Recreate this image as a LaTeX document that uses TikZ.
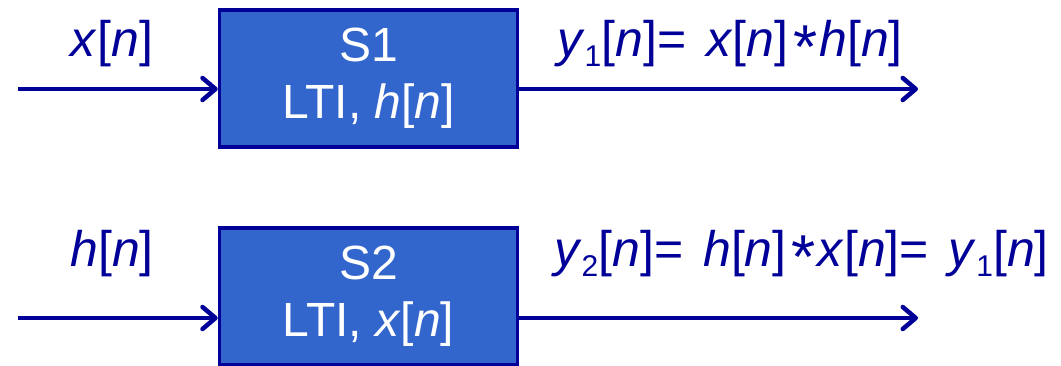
\documentclass[tikz,border=0pt]{standalone}
\usepackage{fontspec}
\setmainfont{Liberation Sans}
\usetikzlibrary{arrows.meta}

\definecolor{sysblue}{HTML}{3366CC}
\definecolor{sigblue}{HTML}{000099}

\newcommand{\sig}[1]{\textit{#1}[\textit{n}]}
\newcommand{\conv}{\kern5pt\raisebox{-12pt}{\fontsize{62}{62}\selectfont *}\kern2pt}
\newcommand{\lowidx}[1]{\raisebox{-10pt}{\fontsize{30}{30}\selectfont #1}}
\newcommand{\eqsp}{=\hspace{20pt}}

\tikzset{
    sysbox/.style={draw=sigblue, fill=sysblue, line width=3.5pt, text=white,
        minimum width=298pt, minimum height=137pt, align=center,
        font=\fontsize{48}{57}\selectfont},
    sigline/.style={draw=sigblue, line width=4.5pt,
        -{Straight Barb[length=13pt,width=22pt,round]}},
    siglabel/.style={text=sigblue, inner sep=0pt, font=\fontsize{50}{57}\selectfont}
}

\begin{document}
\begin{tikzpicture}[x=1pt,y=-1pt]
            \useasboundingbox (0,0) rectangle (1061,365);

            % first system
            \node [sysbox] (s1) at (368.5,78.5) {S1\\LTI, \sig{h}};
            \coordinate (in1) at (18,89);
            \coordinate (out1) at (918,89);
            \draw [sigline] (in1) -- (in1 -| s1.west);
            \draw [sigline] (out1 -| s1.east) -- (out1);
            \node [siglabel, anchor=base] (x1) at (112,56) {\sig{x}};
            \node [siglabel, anchor=base west] (y1) at (557,56)
                {\textit{y}\lowidx{1}[\textit{n}]\eqsp\sig{x}\conv\sig{h}};

            % second system
            \node [sysbox] (s2) at (368.5,296.5) {S2\\LTI, \sig{x}};
            \coordinate (in2) at (18,318);
            \coordinate (out2) at (918,318);
            \draw [sigline] (in2) -- (in2 -| s2.west);
            \draw [sigline] (out2 -| s2.east) -- (out2);
            \node [siglabel, anchor=base] (x2) at (112,266) {\sig{h}};
            \node [siglabel, anchor=base west] (y2) at (554,266)
                {\textit{y}\lowidx{2}[\textit{n}]\eqsp\sig{h}\conv\sig{x}\eqsp\textit{y}\lowidx{1}[\textit{n}]};
        \end{tikzpicture}
\end{document}
